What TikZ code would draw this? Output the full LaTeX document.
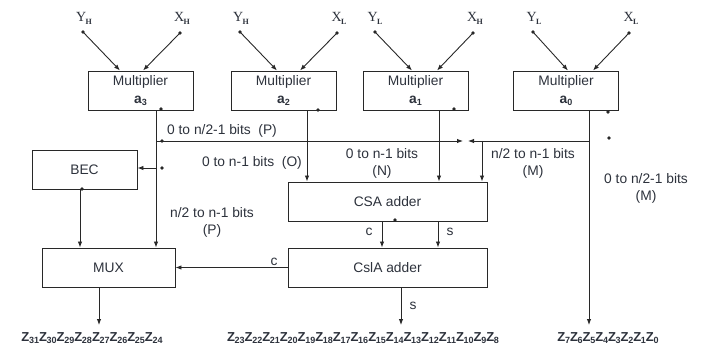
\documentclass[tikz,border=0pt]{standalone}
\usepackage{fontspec}
\setmainfont{Liberation Sans}
\newfontfamily\seriff{Liberation Serif}
\usetikzlibrary{arrows.meta}
\definecolor{ln}{RGB}{40,40,40}
\definecolor{tx}{RGB}{45,50,60}
\newcommand\subn[1]{\raisebox{-2.5pt}{\fontsize{9}{9}\selectfont #1}}
\newcommand\inp[2]{{\seriff\fontsize{14}{14}\selectfont #1\kern-0.5pt\raisebox{-3pt}{\fontsize{8}{8}\selectfont\bfseries #2}}}
\newcommand\Zb[1]{Z\kern-0.3pt\raisebox{-2pt}{\fontsize{9}{9}\selectfont #1}}
\begin{document}
\begin{tikzpicture}[x=1pt,y=-1pt,
  box/.style={draw=ln, line width=0.95pt, minimum width=105pt, minimum height=39pt, inner sep=0pt, text=tx, font=\fontsize{13.8}{18}\selectfont, align=center},
  lbl/.style={text=tx, font=\fontsize{13.8}{17}\selectfont, align=center, inner sep=0pt},
  inl/.style={text=tx, inner sep=0pt},
  arr/.style={-{Latex[length=6pt,width=4.5pt]}, draw=ln, line width=0.9pt},
  dot/.style={circle, fill=ln, inner sep=0pt, minimum size=3.8pt},
  zl/.style={text=tx, font=\bfseries\fontsize{13}{13}\selectfont, inner sep=0pt}]
\useasboundingbox (0,0) rectangle (704,347);

% multiplier boxes
\node[box] (m3) at (140.5,90.5) {Multiplier\\\textbf{a\subn{3}}};
\node[box] (m2) at (283.5,90.5) {Multiplier\\\textbf{a\subn{2}}};
\node[box] (m1) at (415.5,90.5) {Multiplier\\\textbf{a\subn{1}}};
\node[box] (m0) at (566,90.5) {Multiplier\\\textbf{a\subn{0}}};
\node[box] (bec) at (84.5,169.5) {BEC};
\node[box, minimum width=133pt] (mux) at (108.5,267.5) {MUX};
\node[box, minimum width=199pt] (csa) at (387.5,201.5) {CSA adder};
\node[box, minimum width=199pt] (csla) at (387.5,267.5) {CslA adder};

% inputs
\node[dot] (y3) at (83,32) {};  \node[dot] (x3) at (180,33) {};
\node[dot] (y2) at (240,32) {}; \node[dot] (x2) at (337,33) {};
\node[dot] (y1) at (375,32) {}; \node[dot] (x1) at (473,33) {};
\node[dot] (y0) at (533,32) {}; \node[dot] (x0) at (629,33) {};
\node[inl] (ly3) at (84,18) {\inp{Y}{H}};
\node[inl] (lx3) at (182,18) {\inp{X}{H}};
\node[inl] (ly2) at (241,18) {\inp{Y}{H}};
\node[inl] (lx2) at (339,18) {\inp{X}{L}};
\node[inl] (ly1) at (375,18) {\inp{Y}{L}};
\node[inl] (lx1) at (475,18) {\inp{X}{H}};
\node[inl] (ly0) at (534,18) {\inp{Y}{L}};
\node[inl] (lx0) at (631,18) {\inp{X}{L}};
\draw[arr] (y3.center) -- ([xshift=-20.5pt]m3.north);
\draw[arr] (x3.center) -- ([xshift=2.5pt]m3.north);
\draw[arr] (y2.center) -- ([xshift=-6.5pt]m2.north);
\draw[arr] (x2.center) -- ([xshift=16.5pt]m2.north);
\draw[arr] (y1.center) -- ([xshift=-3.5pt]m1.north);
\draw[arr] (x1.center) -- ([xshift=21.5pt]m1.north);
\draw[arr] (y0.center) -- ([xshift=2pt]m0.north);
\draw[arr] (x0.center) -- ([xshift=27pt]m0.north);

% small dots
\node[dot] (d3) at (161,109) {};
\node[dot] (d2) at (318,110) {};
\node[dot] (d1) at (454,109) {};
\node[dot] (d0a) at (608,112) {};
\node[dot] (d0b) at (609,138) {};
\node[dot] (dp) at (162,141) {};
\node[dot] (db) at (162,168) {};
\node[dot] (dbec) at (82,189) {};
\node[dot] (dcsa) at (395,220) {};

% helper coordinates
\coordinate (c3) at (156,0);
\coordinate (c2) at (307,0);
\coordinate (c1) at (439,0);
\coordinate (c0) at (589,0);
\coordinate (v3) at (156,141);
\coordinate (v0) at (589,141);
\coordinate (vm) at (482,141);
\coordinate (jR) at (463,141);
\coordinate (jL) at (468,141);
\coordinate (vb) at (156,168);
\coordinate (cb) at (80,0);
\coordinate (cc) at (382,0);
\coordinate (cs) at (438,0);
\coordinate (cm) at (99,0);
\coordinate (cl) at (401,0);
\coordinate (om) at (99,325);
\coordinate (ol) at (401,325);
\coordinate (o0) at (589,325);

% connectors
\draw[arr] (m3.south -| c3) -- (mux.north -| c3);
\draw[arr] (v3) -- (jR);
\draw[arr] (m0.south -| c0) -- (o0);
\draw[arr] (v0) -- (jL);
\draw[arr] (vm) -- (csa.north -| vm);
\draw[arr] (m2.south -| c2) -- (csa.north -| c2);
\draw[arr] (m1.south -| c1) -- (csa.north -| c1);
\draw[arr] (vb) -- (bec.east |- vb);
\draw[arr] (bec.south -| cb) -- (mux.north -| cb);
\draw[arr] (csa.south -| cc) -- (csla.north -| cc);
\draw[arr] (csa.south -| cs) -- (csla.north -| cs);
\draw[arr] (csla.west) -- (mux.east);
\draw[arr] (mux.south -| cm) -- (om);
\draw[arr] (csla.south -| cl) -- (ol);

% labels
\node[lbl] (lp) at (222,131) {0 to n/2-1 bits~~(P)};
\node[lbl] (lo) at (252,163) {0 to n-1 bits~~(O)};
\node[lbl] (ln) at (382,163.5) {0 to n-1 bits\\(N)};
\node[lbl] (lm) at (533,163.5) {n/2 to n-1 bits\\(M)};
\node[lbl] (lm2) at (646,188) {0 to n/2-1 bits\\(M)};
\node[lbl] (lp2) at (212,222.5) {n/2 to n-1 bits\\(P)};
\node[lbl] (lc1) at (274,262) {c};
\node[lbl] (lc2) at (369,232) {c};
\node[lbl] (ls1) at (450,232) {s};
\node[lbl] (ls2) at (413,306) {s};

% outputs
\node[zl] (z3) at (92,338.5) {\Zb{31}\Zb{30}\Zb{29}\Zb{28}\Zb{27}\Zb{26}\Zb{25}\Zb{24}};
\node[zl] (z2) at (363,338.5) {\Zb{23}\Zb{22}\Zb{21}\Zb{20}\Zb{19}\Zb{18}\Zb{17}\Zb{16}\Zb{15}\Zb{14}\Zb{13}\Zb{12}\Zb{11}\Zb{10}\Zb{9}\Zb{8}};
\node[zl] (z0) at (608,338.5) {\Zb{7}\Zb{6}\Zb{5}\Zb{4}\Zb{3}\Zb{2}\Zb{1}\Zb{0}};
\end{tikzpicture}
\end{document}
